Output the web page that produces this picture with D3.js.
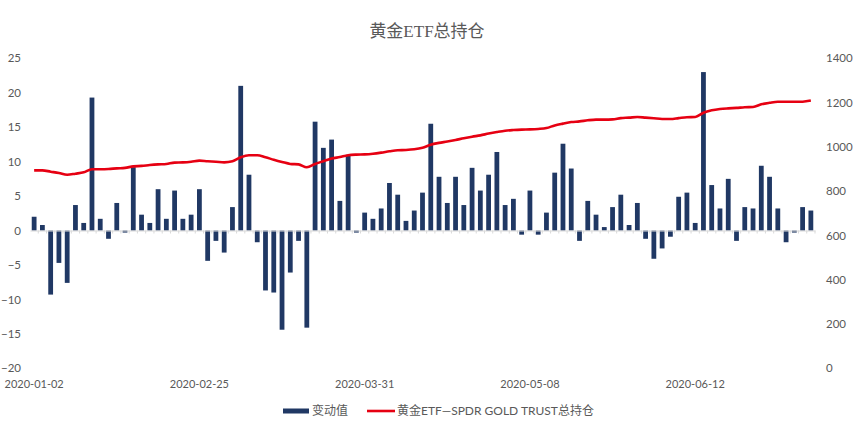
<!DOCTYPE html>
<html>
<head>
<meta charset="utf-8">
<script src="https://cdn.jsdelivr.net/npm/d3@7"></script>
<style>
  body { margin: 0; background: #fff; }
  #wrapper text { font-family: Lato, "Noto Sans CJK SC", sans-serif; fill: #595959; }
  #wrapper .title { font-family: "Liberation Serif", "Noto Sans CJK SC", serif; }
</style>
</head>
<body>
<div id="wrapper"></div>
<script>
// 1. Data

const changeValues = [
  2.0, 0.8, -9.3, -4.7, -7.6, 3.7, 1.1, 19.3, 1.7, -1.2,
  4.0, -0.3, 9.2, 2.3, 1.1, 6.0, 1.7, 5.8, 1.7, 2.3,
  6.0, -4.4, -1.5, -3.2, 3.4, 21.0, 8.1, -1.7, -8.7, -9.0,
  -14.4, -6.1, -1.5, -14.1, 15.8, 12.0, 13.2, 4.3, 11.0, -0.3,
  2.6, 1.7, 3.2, 6.9, 5.2, 1.4, 2.9, 5.5, 15.5, 7.8,
  4.0, 7.8, 3.7, 9.1, 5.8, 8.1, 11.4, 3.7, 4.6, -0.6,
  5.8, -0.6, 2.6, 8.4, 12.6, 9.0, -1.5, 4.3, 2.3, 0.5,
  3.4, 5.2, 0.8, 4.0, -1.2, -4.1, -2.6, -0.9, 4.9, 5.5,
  1.1, 23.0, 6.6, 3.2, 7.5, -1.5, 3.4, 3.2, 9.4, 7.8,
  3.2, -1.7, -0.3, 3.4, 2.9
]

const holdings = [
  894, 894, 888, 882, 874, 879, 885, 899, 899, 900,
  903, 905, 912, 914, 918, 921, 923, 929, 930, 933,
  938, 935, 933, 930, 935, 953, 962, 962, 953, 942,
  932, 923, 921, 908, 923, 935, 947, 954, 962, 965,
  966, 969, 974, 980, 985, 986, 989, 996, 1010, 1018,
  1024, 1031, 1039, 1046, 1052, 1060, 1067, 1073, 1076, 1078,
  1079, 1081, 1085, 1097, 1105, 1112, 1115, 1120, 1123, 1123,
  1124, 1130, 1132, 1135, 1132, 1129, 1126, 1126, 1130, 1134,
  1135, 1154, 1165, 1171, 1174, 1176, 1179, 1180, 1192, 1199,
  1204, 1204, 1204, 1204, 1209
]

const categories = d3.range(changeValues.length)

const dateTickIndexes = [0, 20, 40, 60, 80]
const dateTickLabels = ["2020-01-02", "2020-02-25", "2020-03-31", "2020-05-08", "2020-06-12"]

const leftTicks = [-20, -15, -10, -5, 0, 5, 10, 15, 20, 25]
const rightTicks = [0, 200, 400, 600, 800, 1000, 1200, 1400]

const titleText = "黄金ETF总持仓"
const barLabel = "变动值"
const lineLabel = "黄金ETF—SPDR GOLD TRUST总持仓"

// 2. Dimensions

const dimensions = {
  width: 855,
  height: 425,
  margin: { top: 58.3, right: 40, bottom: 56.7, left: 30 },
}
dimensions.boundedWidth = dimensions.width - dimensions.margin.left - dimensions.margin.right
dimensions.boundedHeight = dimensions.height - dimensions.margin.top - dimensions.margin.bottom

// 3. Canvas

const wrapper = d3.select("#wrapper")
  .append("svg")
    .attr("width", dimensions.width)
    .attr("height", dimensions.height)

const bounds = wrapper.append("g")
    .attr("transform", `translate(${dimensions.margin.left}, ${dimensions.margin.top})`)

// 4. Scales

const xScale = d3.scaleBand()
  .domain(categories)
  .range([0, dimensions.boundedWidth])
  .paddingInner(0.42)
  .paddingOuter(0.21)

const yLeft = d3.scaleLinear()
  .domain([-20, 25])
  .range([dimensions.boundedHeight, 0])

const yRight = d3.scaleLinear()
  .domain([0, 1400])
  .range([dimensions.boundedHeight, 0])

// 5. Draw data

bounds.append("g")
    .attr("class", "bars")
  .selectAll("rect")
  .data(categories)
  .join("rect")
    .attr("x", i => xScale(i))
    .attr("width", xScale.bandwidth())
    .attr("y", i => yLeft(Math.max(0, changeValues[i])))
    .attr("height", i => Math.abs(yLeft(changeValues[i]) - yLeft(0)))
    .attr("fill", "#203864")

// zero axis with small category ticks
const zeroAxis = bounds.append("g")
    .attr("transform", `translate(0, ${yLeft(0)})`)
    .call(d3.axisBottom(xScale).tickFormat("").tickSize(3).tickSizeOuter(0))
zeroAxis.select(".domain").attr("stroke", "#d9d9d9")
zeroAxis.selectAll(".tick line")
    .attr("stroke", "#d9d9d9")
    .attr("transform", `translate(${xScale.step() / 2}, 0)`)

const lineGenerator = d3.line()
  .x(i => xScale(i) + xScale.bandwidth() / 2)
  .y(i => yRight(holdings[i]))
  .curve(d3.curveMonotoneX)

bounds.append("path")
    .datum(categories)
    .attr("d", lineGenerator)
    .attr("fill", "none")
    .attr("stroke", "#e60012")
    .attr("stroke-width", 2.6)
    .attr("stroke-linejoin", "round")

// 6. Axes

const leftAxis = bounds.append("g")
    .call(d3.axisLeft(yLeft).tickValues(leftTicks).tickSize(0).tickPadding(9))
leftAxis.select(".domain").remove()

const rightAxis = bounds.append("g")
    .attr("transform", `translate(${dimensions.boundedWidth}, 0)`)
    .call(d3.axisRight(yRight).tickValues(rightTicks).tickFormat(d3.format("d")).tickSize(0).tickPadding(11))
rightAxis.select(".domain").remove()

const dateAxis = bounds.append("g")
    .attr("transform", `translate(0, ${dimensions.boundedHeight + 9})`)
    .call(d3.axisBottom(xScale)
      .tickValues(dateTickIndexes)
      .tickFormat((d, i) => dateTickLabels[i])
      .tickSize(0))
dateAxis.select(".domain").remove()

wrapper.selectAll(".tick text")
    .attr("font-size", 11.5)
    .style("font-family", "Lato, 'Noto Sans CJK SC', sans-serif")
    .attr("fill", "#595959")

dateAxis.selectAll(".tick text")
    .attr("font-size", 11)

// title
wrapper.append("text")
    .attr("class", "title")
    .attr("x", 427)
    .attr("y", 37)
    .attr("text-anchor", "middle")
    .attr("font-size", 17)
    .text(titleText)

// legend
const legend = wrapper.append("g")
    .attr("transform", "translate(0, 411)")

legend.append("rect")
    .attr("x", 283)
    .attr("y", -2.5)
    .attr("width", 26)
    .attr("height", 5)
    .attr("fill", "#203864")
legend.append("text")
    .attr("x", 312)
    .attr("dy", "0.35em")
    .attr("font-size", 12)
    .text(barLabel)

legend.append("line")
    .attr("x1", 367)
    .attr("x2", 395)
    .attr("stroke", "#e60012")
    .attr("stroke-width", 2.6)
legend.append("text")
    .attr("x", 397)
    .attr("dy", "0.35em")
    .attr("font-size", 12)
    .text(lineLabel)
</script>
</body>
</html>
